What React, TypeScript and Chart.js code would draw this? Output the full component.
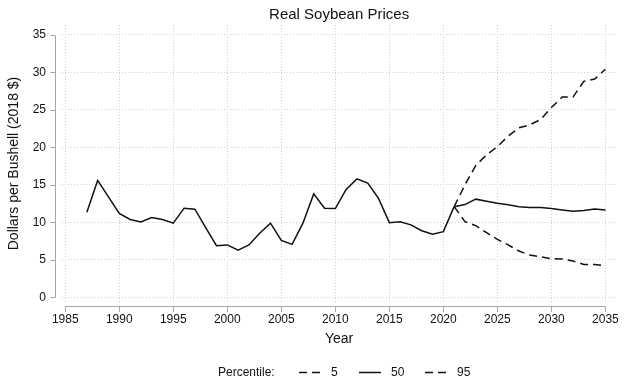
import { useEffect, useRef } from "react";
import { Chart, registerables } from "chart.js";

Chart.register(...registerables);

// Historical real soybean prices, dollars per bushel (2018 $)
const histYears = [
  1987, 1988, 1989, 1990, 1991, 1992, 1993, 1994, 1995, 1996, 1997, 1998,
  1999, 2000, 2001, 2002, 2003, 2004, 2005, 2006, 2007, 2008, 2009, 2010,
  2011, 2012, 2013, 2014, 2015, 2016, 2017, 2018, 2019, 2020, 2021,
];
const histPrices = [
  11.35, 15.6, 13.4, 11.2, 10.4, 10.07, 10.65, 10.4, 9.9, 11.9, 11.76, 9.3,
  6.9, 7.0, 6.3, 7.0, 8.55, 9.9, 7.6, 7.07, 9.9, 13.8, 11.9, 11.85,
  14.4, 15.8, 15.24, 13.2, 9.97, 10.1, 9.67, 8.9, 8.42, 8.77, 12.1,
];

// Projected percentiles
const projYears = [
  2021, 2022, 2023, 2024, 2025, 2026, 2027, 2028, 2029, 2030, 2031, 2032,
  2033, 2034, 2035,
];
const p5 = [
  12.1, 10.1, 9.57, 8.64, 7.75, 7.0, 6.19, 5.65, 5.43, 5.16, 5.12, 4.85,
  4.41, 4.41, 4.23,
];
const p50 = [
  12.1, 12.38, 13.1, 12.83, 12.56, 12.34, 12.1, 12.0, 11.98, 11.85, 11.67,
  11.5, 11.6, 11.8, 11.67,
];
const p95 = [
  12.1, 15.0, 17.6, 19.0, 20.1, 21.5, 22.6, 23.0, 23.7, 25.3, 26.7, 26.7,
  28.8, 29.1, 30.4,
];

const xTicks = [1985, 1990, 1995, 2000, 2005, 2010, 2015, 2020, 2025, 2030, 2035];
const yTicks = [0, 5, 10, 15, 20, 25, 30, 35];

const legendTitle = "Percentile:";
const legendLabels = ["5", "50", "95"];

const FONT = "'Liberation Sans', Arial, Helvetica, sans-serif";
const AXIS_COLOR = "#a6a6a6";
const GRID_COLOR = "#cfcfcf";
const LINE_COLOR = "#111111";
const DASH = [8, 5];

const pts = (xs: number[], ys: number[]) => xs.map((x, i) => ({ x, y: ys[i] }));

// Offset axis lines with outward tick marks, drawn from the chart's own scales
const offsetAxes = {
  id: "offsetAxes",
  afterDraw(chart: any) {
    const { ctx, scales } = chart;
    const xs = scales.x;
    const ys = scales.y;
    const axX = chart.chartArea.left - 7;
    const axY = chart.chartArea.bottom + 4;
    ctx.save();
    ctx.strokeStyle = AXIS_COLOR;
    ctx.lineWidth = 1;
    ctx.setLineDash([]);
    const y0 = ys.getPixelForValue(yTicks[0]);
    const y1 = ys.getPixelForValue(yTicks[yTicks.length - 1]);
    ctx.beginPath();
    ctx.moveTo(axX + 0.5, Math.round(y0) + 0.5);
    ctx.lineTo(axX + 0.5, Math.round(y1) + 0.5);
    yTicks.forEach((v) => {
      const p = Math.round(ys.getPixelForValue(v)) + 0.5;
      ctx.moveTo(axX - 4.5, p);
      ctx.lineTo(axX + 0.5, p);
    });
    const x0 = xs.getPixelForValue(xTicks[0]);
    const x1 = xs.getPixelForValue(xTicks[xTicks.length - 1]);
    ctx.moveTo(Math.round(x0) + 0.5, axY + 0.5);
    ctx.lineTo(Math.round(x1) + 0.5, axY + 0.5);
    xTicks.forEach((v) => {
      const p = Math.round(xs.getPixelForValue(v)) + 0.5;
      ctx.moveTo(p, axY + 0.5);
      ctx.lineTo(p, axY + 6);
    });
    ctx.stroke();
    ctx.restore();
  },
};

// Legend row below the axis title
const percentileLegend = {
  id: "percentileLegend",
  afterDraw(chart: any) {
    const { ctx } = chart;
    const y = 372.5;
    ctx.save();
    ctx.font = `12px ${FONT}`;
    ctx.fillStyle = "#111";
    ctx.textBaseline = "middle";
    ctx.textAlign = "left";
    ctx.fillText(legendTitle, 218, y);
    const items = [
      { x: 299, dash: DASH, label: legendLabels[0] },
      { x: 359, dash: [] as number[], label: legendLabels[1] },
      { x: 425, dash: DASH, label: legendLabels[2] },
    ];
    items.forEach((it) => {
      ctx.strokeStyle = LINE_COLOR;
      ctx.lineWidth = 1.5;
      ctx.setLineDash(it.dash);
      ctx.beginPath();
      ctx.moveTo(it.x, y);
      ctx.lineTo(it.x + 22, y);
      ctx.stroke();
      ctx.fillText(it.label, it.x + 32, y);
    });
    ctx.restore();
  },
};

export default function App() {
  const canvasRef = useRef<HTMLCanvasElement | null>(null);

  useEffect(() => {
    const canvas = canvasRef.current;
    if (!canvas) return;
    const lineBase = {
      borderColor: LINE_COLOR,
      borderWidth: 1.5,
      pointRadius: 0,
      tension: 0,
      fill: false,
    };
    const chart = new Chart(canvas, {
      type: "line",
      data: {
        datasets: [
          { ...lineBase, label: "Historical", data: pts(histYears, histPrices) },
          { ...lineBase, label: "5", data: pts(projYears, p5), borderDash: DASH },
          { ...lineBase, label: "50", data: pts(projYears, p50) },
          { ...lineBase, label: "95", data: pts(projYears, p95), borderDash: DASH },
        ],
      },
      options: {
        responsive: false,
        animation: false,
        events: [],
        layout: { padding: { left: 0, right: 4, top: 0, bottom: 35 } },
        plugins: {
          legend: { display: false },
          tooltip: { enabled: false },
          title: {
            display: true,
            text: "Real Soybean Prices",
            color: "#111",
            fullSize: false,
            font: { family: FONT, size: 15, weight: "normal" },
            padding: { top: 6, bottom: 1 },
          },
        },
        scales: {
          x: {
            type: "linear",
            min: 1984.7,
            max: 2036,
            afterBuildTicks: (s: any) => {
              s.ticks = xTicks.map((v) => ({ value: v }));
            },
            afterFit: (s: any) => {
              s.height = 46;
            },
            grid: { color: GRID_COLOR, lineWidth: 1, drawTicks: false },
            border: { display: false, dash: [1, 2] },
            ticks: {
              padding: 10,
              color: "#111",
              maxRotation: 0,
              autoSkip: false,
              font: { family: FONT, size: 12 },
              callback: (v: any) => String(v),
            },
            title: {
              display: true,
              text: "Year",
              color: "#111",
              font: { family: FONT, size: 14 },
              padding: { top: 0, bottom: 0 },
            },
          },
          y: {
            type: "linear",
            min: -0.6,
            max: 36.3,
            afterBuildTicks: (s: any) => {
              s.ticks = yTicks.map((v) => ({ value: v }));
            },
            afterFit: (s: any) => {
              s.width = 62;
            },
            grid: { color: GRID_COLOR, lineWidth: 1, drawTicks: false },
            border: { display: false, dash: [1, 2] },
            ticks: {
              padding: 16,
              color: "#111",
              autoSkip: false,
              font: { family: FONT, size: 12 },
              callback: (v: any) => String(v),
            },
            title: {
              display: true,
              text: "Dollars per Bushell (2018 $)",
              color: "#111",
              font: { family: FONT, size: 14 },
              padding: { top: 6, bottom: 0 },
            },
          },
        },
      },
      plugins: [offsetAxes, percentileLegend],
    });
    return () => chart.destroy();
  }, []);

  return (
    <div style={{ position: "absolute", left: 0, top: 0, width: 629, height: 383, background: "#fff" }}>
      <canvas ref={canvasRef} width={629} height={383} style={{ display: "block" }} />
    </div>
  );
}
